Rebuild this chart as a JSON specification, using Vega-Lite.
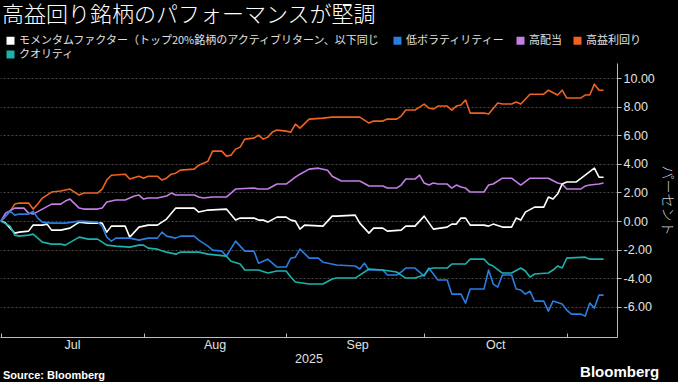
{
  "$schema": "https://vega.github.io/schema/vega-lite/v6.json",
  "background": "#000000",
  "padding": {"left": 0, "right": 4, "top": 4, "bottom": 2},
  "config": {"view": {"stroke": null}, "concat": {"spacing": 0}, "font": "Noto Sans CJK JP"},
  "datasets": {
    "names": [
      {"s": "M", "name": "モメンタムファクター（トップ20%銘柄のアクティブリターン、以下同じ"},
      {"s": "L", "name": "低ボラティリティー"},
      {"s": "D", "name": "高配当"},
      {"s": "E", "name": "高益利回り"},
      {"s": "Q", "name": "クオリティ"}
    ],
    "points": [
      {"date":"2025-07-01","s":"E","value":0},{"date":"2025-07-03","s":"E","value":0.70},{"date":"2025-07-04","s":"E","value":1.19},{"date":"2025-07-05","s":"E","value":1.26},{"date":"2025-07-07","s":"E","value":1.26},{"date":"2025-07-08","s":"E","value":0.84},{"date":"2025-07-09","s":"E","value":1.19},{"date":"2025-07-10","s":"E","value":1.61},{"date":"2025-07-12","s":"E","value":2.03},{"date":"2025-07-14","s":"E","value":2.10},{"date":"2025-07-16","s":"E","value":2.24},{"date":"2025-07-18","s":"E","value":1.82},{"date":"2025-07-19","s":"E","value":1.96},{"date":"2025-07-22","s":"E","value":1.96},{"date":"2025-07-23","s":"E","value":2.24},{"date":"2025-07-24","s":"E","value":2.87},{"date":"2025-07-25","s":"E","value":3.21},{"date":"2025-07-28","s":"E","value":3.28},{"date":"2025-07-29","s":"E","value":2.94},{"date":"2025-07-31","s":"E","value":3.14},{"date":"2025-08-01","s":"E","value":3.00},{"date":"2025-08-02","s":"E","value":3.14},{"date":"2025-08-04","s":"E","value":3.14},{"date":"2025-08-05","s":"E","value":2.87},{"date":"2025-08-06","s":"E","value":3.00},{"date":"2025-08-07","s":"E","value":3.28},{"date":"2025-08-08","s":"E","value":3.35},{"date":"2025-08-09","s":"E","value":3.56},{"date":"2025-08-12","s":"E","value":3.63},{"date":"2025-08-13","s":"E","value":3.91},{"date":"2025-08-15","s":"E","value":4.19},{"date":"2025-08-16","s":"E","value":4.89},{"date":"2025-08-18","s":"E","value":4.89},{"date":"2025-08-19","s":"E","value":4.54},{"date":"2025-08-20","s":"E","value":4.61},{"date":"2025-08-21","s":"E","value":5.03},{"date":"2025-08-22","s":"E","value":5.17},{"date":"2025-08-23","s":"E","value":5.73},{"date":"2025-08-25","s":"E","value":5.80},{"date":"2025-08-26","s":"E","value":6.01},{"date":"2025-08-27","s":"E","value":5.73},{"date":"2025-08-28","s":"E","value":5.87},{"date":"2025-08-29","s":"E","value":6.22},{"date":"2025-08-30","s":"E","value":6.36},{"date":"2025-09-01","s":"E","value":6.29},{"date":"2025-09-02","s":"E","value":6.22},{"date":"2025-09-03","s":"E","value":6.78},{"date":"2025-09-04","s":"E","value":6.50},{"date":"2025-09-06","s":"E","value":7.13},{"date":"2025-09-09","s":"E","value":7.20},{"date":"2025-09-11","s":"E","value":7.27},{"date":"2025-09-17","s":"E","value":7.27},{"date":"2025-09-19","s":"E","value":6.85},{"date":"2025-09-20","s":"E","value":6.99},{"date":"2025-09-22","s":"E","value":6.99},{"date":"2025-09-23","s":"E","value":7.13},{"date":"2025-09-25","s":"E","value":7.13},{"date":"2025-09-26","s":"E","value":7.34},{"date":"2025-09-27","s":"E","value":7.76},{"date":"2025-09-29","s":"E","value":7.76},{"date":"2025-10-01","s":"E","value":8.18},{"date":"2025-10-02","s":"E","value":7.90},{"date":"2025-10-03","s":"E","value":7.83},{"date":"2025-10-04","s":"E","value":8.04},{"date":"2025-10-06","s":"E","value":8.04},{"date":"2025-10-07","s":"E","value":7.76},{"date":"2025-10-08","s":"E","value":8.04},{"date":"2025-10-09","s":"E","value":8.11},{"date":"2025-10-10","s":"E","value":8.46},{"date":"2025-10-11","s":"E","value":7.55},{"date":"2025-10-14","s":"E","value":7.55},{"date":"2025-10-15","s":"E","value":7.48},{"date":"2025-10-17","s":"E","value":8.25},{"date":"2025-10-18","s":"E","value":8.18},{"date":"2025-10-20","s":"E","value":8.18},{"date":"2025-10-21","s":"E","value":8.32},{"date":"2025-10-22","s":"E","value":8.18},{"date":"2025-10-24","s":"E","value":8.87},{"date":"2025-10-27","s":"E","value":8.87},{"date":"2025-10-28","s":"E","value":9.15},{"date":"2025-10-30","s":"E","value":8.81},{"date":"2025-10-31","s":"E","value":9.15},{"date":"2025-11-01","s":"E","value":8.60},{"date":"2025-11-04","s":"E","value":8.60},{"date":"2025-11-05","s":"E","value":8.81},{"date":"2025-11-06","s":"E","value":8.81},{"date":"2025-11-07","s":"E","value":9.57},{"date":"2025-11-08","s":"E","value":9.15},{"date":"2025-11-09","s":"E","value":9.15},
      {"date":"2025-07-01","s":"D","value":0},{"date":"2025-07-02","s":"D","value":0.56},{"date":"2025-07-04","s":"D","value":0.91},{"date":"2025-07-06","s":"D","value":0.91},{"date":"2025-07-07","s":"D","value":0.56},{"date":"2025-07-08","s":"D","value":0.49},{"date":"2025-07-10","s":"D","value":0.84},{"date":"2025-07-12","s":"D","value":1.19},{"date":"2025-07-14","s":"D","value":1.19},{"date":"2025-07-15","s":"D","value":1.40},{"date":"2025-07-16","s":"D","value":1.54},{"date":"2025-07-18","s":"D","value":0.91},{"date":"2025-07-19","s":"D","value":0.84},{"date":"2025-07-22","s":"D","value":0.84},{"date":"2025-07-23","s":"D","value":0.91},{"date":"2025-07-24","s":"D","value":1.33},{"date":"2025-07-26","s":"D","value":1.47},{"date":"2025-07-28","s":"D","value":1.47},{"date":"2025-07-30","s":"D","value":1.75},{"date":"2025-07-31","s":"D","value":1.82},{"date":"2025-08-01","s":"D","value":1.54},{"date":"2025-08-02","s":"D","value":1.61},{"date":"2025-08-04","s":"D","value":1.61},{"date":"2025-08-06","s":"D","value":1.75},{"date":"2025-08-07","s":"D","value":1.96},{"date":"2025-08-08","s":"D","value":1.82},{"date":"2025-08-09","s":"D","value":1.82},{"date":"2025-08-12","s":"D","value":1.82},{"date":"2025-08-13","s":"D","value":1.68},{"date":"2025-08-14","s":"D","value":1.61},{"date":"2025-08-16","s":"D","value":1.68},{"date":"2025-08-19","s":"D","value":1.68},{"date":"2025-08-20","s":"D","value":1.96},{"date":"2025-08-21","s":"D","value":2.24},{"date":"2025-08-25","s":"D","value":2.31},{"date":"2025-08-26","s":"D","value":2.24},{"date":"2025-08-28","s":"D","value":2.24},{"date":"2025-08-30","s":"D","value":2.59},{"date":"2025-09-01","s":"D","value":2.59},{"date":"2025-09-03","s":"D","value":3.07},{"date":"2025-09-04","s":"D","value":3.28},{"date":"2025-09-06","s":"D","value":3.63},{"date":"2025-09-08","s":"D","value":3.70},{"date":"2025-09-10","s":"D","value":3.56},{"date":"2025-09-11","s":"D","value":3.14},{"date":"2025-09-13","s":"D","value":2.80},{"date":"2025-09-17","s":"D","value":2.80},{"date":"2025-09-19","s":"D","value":2.45},{"date":"2025-09-22","s":"D","value":2.45},{"date":"2025-09-23","s":"D","value":2.31},{"date":"2025-09-25","s":"D","value":2.31},{"date":"2025-09-26","s":"D","value":2.52},{"date":"2025-09-27","s":"D","value":2.94},{"date":"2025-09-29","s":"D","value":2.94},{"date":"2025-09-30","s":"D","value":3.21},{"date":"2025-10-01","s":"D","value":2.66},{"date":"2025-10-02","s":"D","value":2.52},{"date":"2025-10-03","s":"D","value":2.66},{"date":"2025-10-04","s":"D","value":2.59},{"date":"2025-10-06","s":"D","value":2.59},{"date":"2025-10-07","s":"D","value":2.31},{"date":"2025-10-08","s":"D","value":2.52},{"date":"2025-10-09","s":"D","value":2.38},{"date":"2025-10-10","s":"D","value":2.31},{"date":"2025-10-11","s":"D","value":2.03},{"date":"2025-10-14","s":"D","value":2.03},{"date":"2025-10-15","s":"D","value":2.52},{"date":"2025-10-16","s":"D","value":2.59},{"date":"2025-10-18","s":"D","value":3.00},{"date":"2025-10-20","s":"D","value":3.00},{"date":"2025-10-22","s":"D","value":2.52},{"date":"2025-10-24","s":"D","value":3.00},{"date":"2025-10-28","s":"D","value":3.00},{"date":"2025-10-30","s":"D","value":2.66},{"date":"2025-10-31","s":"D","value":2.59},{"date":"2025-11-01","s":"D","value":2.24},{"date":"2025-11-04","s":"D","value":2.24},{"date":"2025-11-05","s":"D","value":2.45},{"date":"2025-11-06","s":"D","value":2.52},{"date":"2025-11-08","s":"D","value":2.59},{"date":"2025-11-09","s":"D","value":2.66},
      {"date":"2025-07-01","s":"M","value":0},{"date":"2025-07-02","s":"M","value":-0.14},{"date":"2025-07-04","s":"M","value":-0.84},{"date":"2025-07-05","s":"M","value":-0.77},{"date":"2025-07-07","s":"M","value":-0.70},{"date":"2025-07-08","s":"M","value":-0.28},{"date":"2025-07-10","s":"M","value":-0.28},{"date":"2025-07-11","s":"M","value":-0.21},{"date":"2025-07-12","s":"M","value":-0.63},{"date":"2025-07-14","s":"M","value":-0.63},{"date":"2025-07-16","s":"M","value":-0.49},{"date":"2025-07-18","s":"M","value":-0.07},{"date":"2025-07-20","s":"M","value":-0.14},{"date":"2025-07-23","s":"M","value":-0.14},{"date":"2025-07-24","s":"M","value":-0.77},{"date":"2025-07-25","s":"M","value":-0.35},{"date":"2025-07-28","s":"M","value":-0.35},{"date":"2025-07-29","s":"M","value":-1.12},{"date":"2025-07-31","s":"M","value":-0.42},{"date":"2025-08-02","s":"M","value":-0.28},{"date":"2025-08-04","s":"M","value":-0.28},{"date":"2025-08-06","s":"M","value":0.14},{"date":"2025-08-08","s":"M","value":0.91},{"date":"2025-08-12","s":"M","value":0.91},{"date":"2025-08-13","s":"M","value":0.63},{"date":"2025-08-15","s":"M","value":0.77},{"date":"2025-08-19","s":"M","value":0.84},{"date":"2025-08-21","s":"M","value":0.07},{"date":"2025-08-22","s":"M","value":0.21},{"date":"2025-08-25","s":"M","value":0.21},{"date":"2025-08-26","s":"M","value":0.07},{"date":"2025-08-27","s":"M","value":0.07},{"date":"2025-08-28","s":"M","value":-0.07},{"date":"2025-08-30","s":"M","value":0.28},{"date":"2025-09-01","s":"M","value":0.28},{"date":"2025-09-02","s":"M","value":0.07},{"date":"2025-09-03","s":"M","value":0},{"date":"2025-09-04","s":"M","value":-0.56},{"date":"2025-09-05","s":"M","value":-0.28},{"date":"2025-09-09","s":"M","value":-0.35},{"date":"2025-09-11","s":"M","value":0.35},{"date":"2025-09-12","s":"M","value":0.35},{"date":"2025-09-16","s":"M","value":0.42},{"date":"2025-09-17","s":"M","value":-0.14},{"date":"2025-09-19","s":"M","value":-0.84},{"date":"2025-09-20","s":"M","value":-0.49},{"date":"2025-09-22","s":"M","value":-0.49},{"date":"2025-09-23","s":"M","value":-0.70},{"date":"2025-09-26","s":"M","value":-0.63},{"date":"2025-09-27","s":"M","value":-0.35},{"date":"2025-09-29","s":"M","value":-0.35},{"date":"2025-10-01","s":"M","value":0.35},{"date":"2025-10-03","s":"M","value":-0.56},{"date":"2025-10-06","s":"M","value":-0.42},{"date":"2025-10-07","s":"M","value":-0.21},{"date":"2025-10-08","s":"M","value":-0.21},{"date":"2025-10-09","s":"M","value":0.21},{"date":"2025-10-10","s":"M","value":0.21},{"date":"2025-10-11","s":"M","value":-0.28},{"date":"2025-10-14","s":"M","value":-0.28},{"date":"2025-10-15","s":"M","value":-0.35},{"date":"2025-10-16","s":"M","value":-0.21},{"date":"2025-10-18","s":"M","value":-0.42},{"date":"2025-10-20","s":"M","value":-0.42},{"date":"2025-10-21","s":"M","value":0.21},{"date":"2025-10-22","s":"M","value":0.07},{"date":"2025-10-23","s":"M","value":0.63},{"date":"2025-10-25","s":"M","value":0.98},{"date":"2025-10-27","s":"M","value":0.98},{"date":"2025-10-28","s":"M","value":1.68},{"date":"2025-10-29","s":"M","value":1.54},{"date":"2025-10-30","s":"M","value":1.89},{"date":"2025-10-31","s":"M","value":2.59},{"date":"2025-11-01","s":"M","value":2.73},{"date":"2025-11-03","s":"M","value":2.73},{"date":"2025-11-05","s":"M","value":3.21},{"date":"2025-11-07","s":"M","value":3.70},{"date":"2025-11-08","s":"M","value":3.07},{"date":"2025-11-09","s":"M","value":3.07},
      {"date":"2025-07-01","s":"L","value":0},{"date":"2025-07-03","s":"L","value":0.70},{"date":"2025-07-04","s":"L","value":0.42},{"date":"2025-07-05","s":"L","value":0.49},{"date":"2025-07-07","s":"L","value":0.49},{"date":"2025-07-08","s":"L","value":0.70},{"date":"2025-07-09","s":"L","value":0.21},{"date":"2025-07-10","s":"L","value":-0.07},{"date":"2025-07-12","s":"L","value":-0.14},{"date":"2025-07-15","s":"L","value":-0.14},{"date":"2025-07-18","s":"L","value":0},{"date":"2025-07-22","s":"L","value":-0.07},{"date":"2025-07-23","s":"L","value":-0.35},{"date":"2025-07-24","s":"L","value":-1.12},{"date":"2025-07-25","s":"L","value":-1.40},{"date":"2025-07-26","s":"L","value":-1.19},{"date":"2025-07-29","s":"L","value":-1.19},{"date":"2025-07-31","s":"L","value":-1.33},{"date":"2025-08-02","s":"L","value":-1.19},{"date":"2025-08-04","s":"L","value":-1.19},{"date":"2025-08-05","s":"L","value":-0.77},{"date":"2025-08-06","s":"L","value":-1.05},{"date":"2025-08-08","s":"L","value":-1.19},{"date":"2025-08-09","s":"L","value":-1.05},{"date":"2025-08-12","s":"L","value":-1.05},{"date":"2025-08-13","s":"L","value":-1.33},{"date":"2025-08-15","s":"L","value":-1.75},{"date":"2025-08-16","s":"L","value":-2.03},{"date":"2025-08-18","s":"L","value":-2.10},{"date":"2025-08-19","s":"L","value":-2.45},{"date":"2025-08-21","s":"L","value":-1.40},{"date":"2025-08-23","s":"L","value":-2.10},{"date":"2025-08-25","s":"L","value":-2.10},{"date":"2025-08-26","s":"L","value":-2.94},{"date":"2025-08-28","s":"L","value":-2.66},{"date":"2025-08-29","s":"L","value":-2.94},{"date":"2025-08-30","s":"L","value":-3.21},{"date":"2025-09-01","s":"L","value":-3.21},{"date":"2025-09-02","s":"L","value":-2.59},{"date":"2025-09-03","s":"L","value":-2.52},{"date":"2025-09-04","s":"L","value":-1.96},{"date":"2025-09-06","s":"L","value":-2.59},{"date":"2025-09-08","s":"L","value":-2.59},{"date":"2025-09-09","s":"L","value":-2.87},{"date":"2025-09-12","s":"L","value":-3.07},{"date":"2025-09-16","s":"L","value":-3.14},{"date":"2025-09-17","s":"L","value":-3.35},{"date":"2025-09-18","s":"L","value":-2.94},{"date":"2025-09-19","s":"L","value":-3.42},{"date":"2025-09-22","s":"L","value":-3.42},{"date":"2025-09-23","s":"L","value":-3.77},{"date":"2025-09-25","s":"L","value":-3.77},{"date":"2025-09-26","s":"L","value":-3.56},{"date":"2025-09-27","s":"L","value":-3.28},{"date":"2025-09-29","s":"L","value":-3.28},{"date":"2025-10-01","s":"L","value":-3.84},{"date":"2025-10-02","s":"L","value":-3.28},{"date":"2025-10-04","s":"L","value":-4.12},{"date":"2025-10-06","s":"L","value":-4.12},{"date":"2025-10-07","s":"L","value":-5.10},{"date":"2025-10-09","s":"L","value":-5.10},{"date":"2025-10-10","s":"L","value":-5.73},{"date":"2025-10-11","s":"L","value":-4.75},{"date":"2025-10-14","s":"L","value":-4.75},{"date":"2025-10-15","s":"L","value":-3.42},{"date":"2025-10-16","s":"L","value":-4.40},{"date":"2025-10-17","s":"L","value":-4.61},{"date":"2025-10-18","s":"L","value":-3.77},{"date":"2025-10-20","s":"L","value":-3.77},{"date":"2025-10-21","s":"L","value":-4.75},{"date":"2025-10-22","s":"L","value":-4.82},{"date":"2025-10-23","s":"L","value":-5.10},{"date":"2025-10-24","s":"L","value":-4.89},{"date":"2025-10-25","s":"L","value":-5.59},{"date":"2025-10-27","s":"L","value":-5.59},{"date":"2025-10-28","s":"L","value":-6.29},{"date":"2025-10-29","s":"L","value":-5.59},{"date":"2025-10-31","s":"L","value":-5.80},{"date":"2025-11-01","s":"L","value":-6.22},{"date":"2025-11-02","s":"L","value":-6.50},{"date":"2025-11-04","s":"L","value":-6.50},{"date":"2025-11-05","s":"L","value":-6.64},{"date":"2025-11-06","s":"L","value":-5.73},{"date":"2025-11-07","s":"L","value":-6.08},{"date":"2025-11-08","s":"L","value":-5.17},{"date":"2025-11-09","s":"L","value":-5.17},
      {"date":"2025-07-01","s":"Q","value":0},{"date":"2025-07-03","s":"Q","value":-0.35},{"date":"2025-07-04","s":"Q","value":-0.98},{"date":"2025-07-05","s":"Q","value":-1.05},{"date":"2025-07-07","s":"Q","value":-0.98},{"date":"2025-07-08","s":"Q","value":-0.91},{"date":"2025-07-10","s":"Q","value":-1.47},{"date":"2025-07-12","s":"Q","value":-1.61},{"date":"2025-07-14","s":"Q","value":-1.61},{"date":"2025-07-15","s":"Q","value":-1.68},{"date":"2025-07-18","s":"Q","value":-1.12},{"date":"2025-07-20","s":"Q","value":-1.26},{"date":"2025-07-22","s":"Q","value":-1.26},{"date":"2025-07-24","s":"Q","value":-1.68},{"date":"2025-07-26","s":"Q","value":-1.75},{"date":"2025-07-29","s":"Q","value":-1.82},{"date":"2025-07-31","s":"Q","value":-1.68},{"date":"2025-08-01","s":"Q","value":-1.68},{"date":"2025-08-02","s":"Q","value":-1.89},{"date":"2025-08-04","s":"Q","value":-1.96},{"date":"2025-08-06","s":"Q","value":-2.17},{"date":"2025-08-08","s":"Q","value":-2.31},{"date":"2025-08-09","s":"Q","value":-2.17},{"date":"2025-08-13","s":"Q","value":-2.17},{"date":"2025-08-15","s":"Q","value":-2.31},{"date":"2025-08-19","s":"Q","value":-2.45},{"date":"2025-08-20","s":"Q","value":-2.80},{"date":"2025-08-22","s":"Q","value":-3.00},{"date":"2025-08-23","s":"Q","value":-3.42},{"date":"2025-08-26","s":"Q","value":-3.42},{"date":"2025-08-28","s":"Q","value":-3.63},{"date":"2025-08-30","s":"Q","value":-3.49},{"date":"2025-09-01","s":"Q","value":-3.49},{"date":"2025-09-02","s":"Q","value":-3.91},{"date":"2025-09-03","s":"Q","value":-4.26},{"date":"2025-09-06","s":"Q","value":-4.40},{"date":"2025-09-09","s":"Q","value":-4.40},{"date":"2025-09-11","s":"Q","value":-4.05},{"date":"2025-09-12","s":"Q","value":-3.98},{"date":"2025-09-16","s":"Q","value":-3.98},{"date":"2025-09-17","s":"Q","value":-3.77},{"date":"2025-09-19","s":"Q","value":-3.35},{"date":"2025-09-22","s":"Q","value":-3.42},{"date":"2025-09-25","s":"Q","value":-3.56},{"date":"2025-09-26","s":"Q","value":-3.77},{"date":"2025-09-27","s":"Q","value":-3.98},{"date":"2025-09-29","s":"Q","value":-3.98},{"date":"2025-10-01","s":"Q","value":-3.77},{"date":"2025-10-02","s":"Q","value":-3.35},{"date":"2025-10-03","s":"Q","value":-3.28},{"date":"2025-10-06","s":"Q","value":-3.28},{"date":"2025-10-07","s":"Q","value":-3.00},{"date":"2025-10-10","s":"Q","value":-3.00},{"date":"2025-10-11","s":"Q","value":-2.66},{"date":"2025-10-14","s":"Q","value":-2.66},{"date":"2025-10-15","s":"Q","value":-3.00},{"date":"2025-10-16","s":"Q","value":-3.14},{"date":"2025-10-18","s":"Q","value":-3.63},{"date":"2025-10-20","s":"Q","value":-3.63},{"date":"2025-10-22","s":"Q","value":-3.28},{"date":"2025-10-23","s":"Q","value":-3.49},{"date":"2025-10-24","s":"Q","value":-3.91},{"date":"2025-10-25","s":"Q","value":-3.70},{"date":"2025-10-28","s":"Q","value":-3.63},{"date":"2025-10-29","s":"Q","value":-3.42},{"date":"2025-10-30","s":"Q","value":-3.14},{"date":"2025-10-31","s":"Q","value":-3.28},{"date":"2025-11-01","s":"Q","value":-2.59},{"date":"2025-11-05","s":"Q","value":-2.52},{"date":"2025-11-06","s":"Q","value":-2.66},{"date":"2025-11-09","s":"Q","value":-2.66}
    ]
  },
  "title": {"text": "Bloomberg", "orient": "bottom", "anchor": "end", "frame": "bounds", "font": "Liberation Sans", "fontSize": 15, "fontWeight": "bold", "color": "#ffffff", "offset": -16, "dx": -14},
  "vconcat": [
    {
      "title": {"text": "Source: Bloomberg", "orient": "bottom", "anchor": "start", "frame": "group", "font": "Liberation Sans", "fontSize": 11, "fontWeight": "bold", "color": "#ffffff", "offset": 5, "dx": 3},
      "vconcat": [
        {
          "width": 617,
          "height": 274,
          "title": {"text": "高益回り銘柄のパフォーマンスが堅調", "anchor": "start", "frame": "group", "font": "Noto Sans CJK JP", "fontSize": 22, "fontWeight": 300, "color": "#ffffff", "offset": 36, "dx": 2},
          "data": {"name": "points"},
          "transform": [{"lookup": "s", "from": {"data": {"name": "names"}, "key": "s", "fields": ["name"]}}],
          "mark": {"type": "line", "strokeWidth": 1.6, "strokeJoin": "round", "clip": true},
          "encoding": {
            "x": {
              "field": "date", "type": "temporal",
              "scale": {"type": "utc", "domain": [{"year": 2025, "month": 6, "date": 30, "hours": 19, "utc": true}, {"year": 2025, "month": 11, "date": 11, "hours": 22, "utc": true}]},
              "axis": {
                "values": [{"year": 2025, "month": 7, "date": 1, "utc": true}, {"year": 2025, "month": 8, "date": 1, "utc": true}, {"year": 2025, "month": 9, "date": 1, "utc": true}, {"year": 2025, "month": 10, "date": 1, "utc": true}, {"year": 2025, "month": 11, "date": 1, "utc": true}],
                "labelExpr": "utcmonth(datum.value) == 10 ? '' : utcFormat(datum.value, '%b')",
                "labelOffset": 71, "labelOverlap": false, "labelFlush": false, "labelBound": false,
                "grid": false, "domainColor": "#bbbbbb", "tickColor": "#bbbbbb", "tickSize": -4,
                "labelColor": "#e0e0e0", "labelFont": "Liberation Sans", "labelFontSize": 12.5, "labelPadding": 5,
                "title": "2025", "titleColor": "#e0e0e0", "titleFont": "Liberation Sans", "titleFontSize": 12.5, "titleFontWeight": "normal", "titlePadding": 2
              }
            },
            "y": {
              "field": "value", "type": "quantitative",
              "scale": {"domain": [-8.1, 11.05], "nice": false, "zero": false},
              "axis": {
                "orient": "right", "values": [-6, -4, -2, 0, 2, 4, 6, 8, 10],
                "labelExpr": "replace(format(datum.value, '.2f'), '−', '-')",
                "grid": true, "gridColor": "#4a4a4a", "gridDash": [2, 2],
                "domainColor": "#bbbbbb", "tickColor": "#bbbbbb", "tickSize": 4,
                "labelColor": "#e0e0e0", "labelFont": "Liberation Sans", "labelFontSize": 12.5, "labelPadding": 2,
                "title": "パーセント", "titleAngle": 90, "titleFont": "Noto Sans CJK JP", "titleFontSize": 14, "titleFontWeight": 300, "titleColor": "#cccccc", "titlePadding": 5
              }
            },
            "color": {
              "field": "name", "type": "nominal",
              "scale": {
                "domain": ["モメンタムファクター（トップ20%銘柄のアクティブリターン、以下同じ", "低ボラティリティー", "高配当", "高益利回り", "クオリティ"],
                "range": ["#ffffff", "#2a7de1", "#c47ee6", "#f0621f", "#1cb2ac"]
              },
              "legend": {
                "orient": "none", "legendX": 5, "legendY": -28, "direction": "horizontal", "columns": 4,
                "title": null, "padding": 0, "symbolType": "square", "symbolSize": 64, "symbolStrokeWidth": 0,
                "labelFont": "Noto Sans CJK JP", "labelFontSize": 11, "labelColor": "#e0e0e0", "labelOffset": 3, "labelLimit": 500,
                "columnPadding": 10, "rowPadding": 2,
                "encode": {"symbols": {"update": {"fill": {"scale": "color", "field": "value"}, "opacity": {"value": 1}}}}
              }
            }
          }
        }
      ]
    }
  ]
}
